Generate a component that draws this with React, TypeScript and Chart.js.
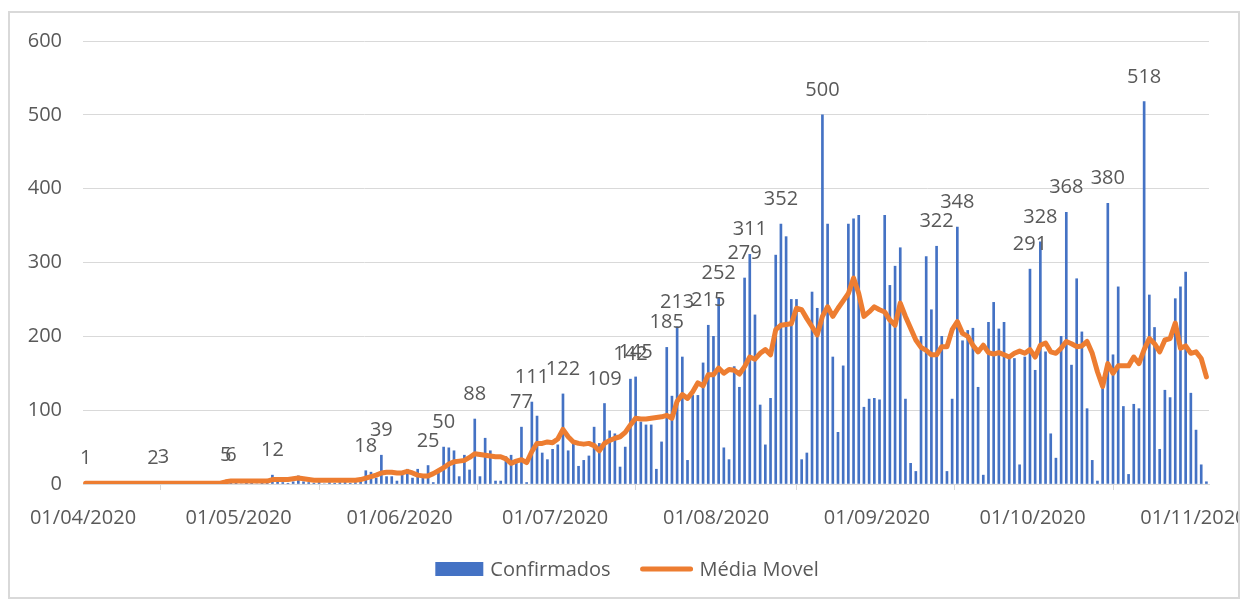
import { useEffect, useRef } from "react";
import { Chart, registerables } from "chart.js";

Chart.register(...registerables);

// Categories: one entry per day, 01/04/2020 .. 03/11/2020
const startDay = { year: 2020, month: 4, day: 1 };
const dayCount = 217;
const dates: string[] = [];
for (let i = 0; i < dayCount; i++) {
  const d = new Date(Date.UTC(startDay.year, startDay.month - 1, startDay.day + i));
  const dd = String(d.getUTCDate()).padStart(2, "0");
  const mm = String(d.getUTCMonth() + 1).padStart(2, "0");
  dates.push(`${dd}/${mm}/${d.getUTCFullYear()}`);
}

const tickLabels = [
  "01/04/2020", "01/05/2020", "01/06/2020", "01/07/2020",
  "01/08/2020", "01/09/2020", "01/10/2020", "01/11/2020",
];

// Daily confirmed cases
const confirmados = [
  1, 0, 0, 1, 0, 0, 0, 1, 0, 0,
  0, 1, 0, 2, 0, 3, 0, 1, 0, 0,
  1, 0, 0, 1, 0, 0, 1, 5, 6, 1,
  0, 2, 1, 0, 1, 2, 12, 8, 2, 1,
  3, 11, 3, 2, 1, 3, 0, 2, 1, 2,
  3, 1, 2, 4, 18, 16, 8, 39, 10, 10,
  4, 17, 20, 8, 20, 8, 25, 2, 20, 50,
  49, 45, 10, 39, 19, 88, 10, 62, 45, 4,
  4, 37, 39, 28, 77, 2, 111, 92, 42, 33,
  47, 53, 122, 45, 56, 24, 32, 38, 77, 55,
  109, 72, 68, 23, 50, 142, 145, 84, 80, 80,
  20, 57, 185, 119, 213, 172, 32, 120, 120, 164,
  215, 200, 252, 49, 33, 159, 131, 279, 311, 229,
  107, 53, 116, 310, 352, 335, 250, 250, 33, 42,
  260, 238, 500, 352, 172, 70, 160, 352, 359, 364,
  104, 115, 116, 114, 364, 269, 295, 320, 115, 28,
  17, 200, 308, 236, 322, 200, 17, 115, 348, 194,
  208, 211, 131, 12, 219, 246, 210, 219, 172, 170,
  26, 172, 291, 154, 328, 179, 68, 35, 200, 368,
  161, 278, 206, 102, 32, 4, 140, 380, 175, 267,
  105, 13, 108, 102, 518, 256, 212, 47, 127, 117,
  251, 267, 287, 123, 73, 26, 3,
];

// Moving average as drawn
const mediaMovel = [
  1, 1, 1, 1, 1, 1, 1, 1, 1, 1,
  1, 1, 1, 1, 1, 1, 1, 1, 1, 1,
  1, 1, 1, 1, 1, 1, 1, 3, 4, 4,
  4, 4, 4, 4, 4, 4, 6, 6, 6, 6,
  7, 8, 7, 6, 5, 5, 5, 5, 5, 5,
  5, 5, 5, 6, 8, 10, 12, 15, 16, 16,
  15, 15, 17, 15, 12, 11, 11, 14, 18, 22,
  27, 30, 31, 32, 36, 41, 40, 39, 38, 37,
  37, 34, 28, 31, 33, 29, 44, 55, 55, 57,
  56, 61, 74, 64, 57, 55, 54, 55, 52, 45,
  55, 59, 62, 64, 70, 80, 89, 88, 88, 89,
  90, 91, 93, 89, 112, 121, 116, 125, 137, 133,
  148, 148, 157, 150, 155, 154, 149, 159, 172, 169,
  177, 182, 175, 209, 215, 216, 217, 238, 236, 224,
  213, 202, 227, 240, 227, 238, 248, 258, 279, 258,
  227, 233, 240, 236, 233, 222, 215, 245, 227, 211,
  195, 185, 181, 175, 175, 186, 186, 209, 220, 204,
  200, 188, 179, 188, 178, 176, 178, 175, 172, 177,
  180, 177, 182, 172, 188, 191, 179, 177, 184, 193,
  190, 186, 187, 193, 177, 152, 132, 163, 150, 160,
  160, 160, 172, 163, 182, 197, 190, 179, 195, 197,
  218, 184, 187, 177, 179, 170, 145,
];

// Days whose bar carries a value label
const labelledDays = [
  0, 13, 15, 27, 28, 36, 54, 57, 66, 69, 75, 84, 86, 92, 100, 105, 106,
  112, 114, 120, 122, 127, 128, 134, 142, 164, 168, 182, 184, 189, 197, 204,
];

const FONT = "'Open Sans', sans-serif";
const TEXT = "#595959";
const BLUE = "#4472C4";
const ORANGE = "#ED7D31";
const GRID = "#d9d9d9";

export default function App() {
  const ref = useRef<HTMLCanvasElement>(null);

  useEffect(() => {
    if (!ref.current) return;
    const tickPos = tickLabels.map((l) => dates.indexOf(l) - 0.5);

    const valueLabels = {
      id: "valueLabels",
      afterDatasetsDraw(chart: any) {
        const meta = chart.getDatasetMeta(0);
        const ctx = chart.ctx;
        ctx.save();
        ctx.font = `20px ${FONT}`;
        ctx.fillStyle = TEXT;
        ctx.textAlign = "center";
        ctx.textBaseline = "alphabetic";
        labelledDays.forEach((i) => {
          const el = meta.data[i];
          if (el) ctx.fillText(String(confirmados[i]), el.x, el.y - 19);
        });
        ctx.restore();
      },
    };

    const customLegend = {
      id: "customLegend",
      afterDraw(chart: any) {
        const ctx = chart.ctx;
        ctx.save();
        ctx.font = `20px ${FONT}`;
        const t1 = "Confirmados";
        const t2 = "Média Movel";
        const w1 = ctx.measureText(t1).width;
        const w2 = ctx.measureText(t2).width;
        const box = 48, gap = 7, itemGap = 30, lineW = 52;
        const total = box + gap + w1 + itemGap + lineW + gap + w2;
        let x = 617 - total / 2;
        const y = 556;
        ctx.fillStyle = BLUE;
        ctx.fillRect(x, y - 7, box, 14);
        x += box + gap;
        ctx.fillStyle = TEXT;
        ctx.textAlign = "left";
        ctx.textBaseline = "middle";
        ctx.fillText(t1, x, y + 1);
        x += w1 + itemGap;
        ctx.strokeStyle = ORANGE;
        ctx.lineWidth = 5;
        ctx.lineCap = "round";
        ctx.beginPath();
        ctx.moveTo(x + 2, y);
        ctx.lineTo(x + lineW - 2, y);
        ctx.stroke();
        x += lineW + gap;
        ctx.fillText(t2, x, y + 1);
        ctx.restore();
      },
    };

    const chart = new Chart(ref.current, {
      type: "bar",
      data: {
        datasets: [
          {
            type: "bar",
            label: "Confirmados",
            data: confirmados.map((v, i) => ({ x: i, y: v })),
            backgroundColor: BLUE,
            barThickness: 2,
            order: 2,
          } as any,
          {
            type: "line",
            label: "Média Movel",
            data: mediaMovel.map((v, i) => ({ x: i, y: v })),
            borderColor: ORANGE,
            backgroundColor: ORANGE,
            borderWidth: 5,
            pointRadius: 0,
            tension: 0,
            borderJoinStyle: "round",
            borderCapStyle: "round",
            order: 1,
          } as any,
        ],
      },
      options: {
        responsive: false,
        animation: false,
        layout: { padding: { left: 0, top: 28, right: 61, bottom: 63 } },
        plugins: { legend: { display: false }, tooltip: { enabled: false } },
        scales: {
          x: {
            type: "linear",
            min: -0.5,
            max: dayCount - 0.5,
            offset: false,
            afterBuildTicks: (s: any) => {
              s.ticks = tickPos.map((v) => ({ value: v }));
            },
            afterFit: (s: any) => {
              s.height = 50;
              s.paddingLeft = 0;
              s.paddingRight = 0;
            },
            ticks: {
              autoSkip: false,
              maxRotation: 0,
              padding: 16,
              color: TEXT,
              font: { family: FONT, size: 20 },
              callback: (v: any) => {
                const k = tickPos.indexOf(Number(v));
                return k >= 0 ? tickLabels[k] : "";
              },
            },
            grid: { drawOnChartArea: false, drawTicks: true, tickLength: 6, color: GRID },
            border: { color: GRID },
          } as any,
          y: {
            min: 0,
            max: 600,
            ticks: { stepSize: 100, padding: 21, color: TEXT, font: { family: FONT, size: 20 } },
            grid: { color: GRID, drawTicks: false },
            border: { display: false },
            afterFit: (s: any) => {
              s.width = 73;
              s.paddingTop = 0;
              s.paddingBottom = 0;
            },
          } as any,
        },
      },
      plugins: [valueLabels, customLegend],
    });
    return () => chart.destroy();
  }, []);

  return (
    <div
      style={{
        position: "absolute",
        left: 8,
        top: 11,
        width: 1232,
        height: 588,
        border: `2px solid ${GRID}`,
        boxSizing: "border-box",
        overflow: "hidden",
        background: "#fff",
      }}
    >
      <canvas
        ref={ref}
        width={1260}
        height={584}
        style={{ position: "absolute", left: 0, top: 0, display: "block" }}
      />
    </div>
  );
}
